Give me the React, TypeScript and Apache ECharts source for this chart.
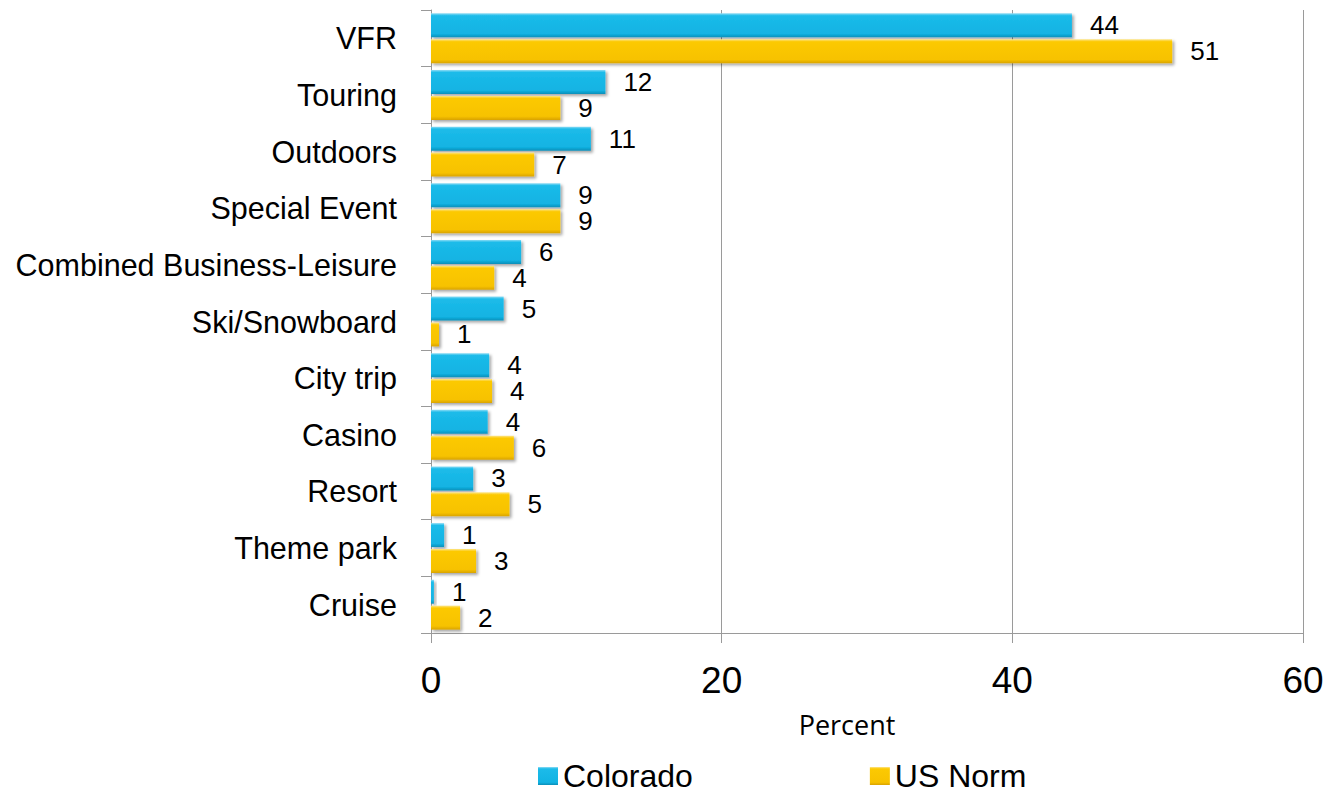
import React, { useEffect, useRef } from "react";
import * as echarts from "echarts";

const categories = [
  "VFR",
  "Touring",
  "Outdoors",
  "Special Event",
  "Combined Business-Leisure",
  "Ski/Snowboard",
  "City trip",
  "Casino",
  "Resort",
  "Theme park",
  "Cruise",
];
const coloradoValues = [44.1, 12.0, 11.0, 8.9, 6.2, 5.0, 4.0, 3.9, 2.9, 0.9, 0.2];
const usNormValues = [51.0, 8.9, 7.1, 8.9, 4.35, 0.55, 4.2, 5.7, 5.4, 3.1, 2.0];
const coloradoLabels = ["44", "12", "11", "9", "6", "5", "4", "4", "3", "1", "1"];
const usNormLabels = ["51", "9", "7", "9", "4", "1", "4", "6", "5", "3", "2"];
const seriesNames = ["Colorado", "US Norm"];
const axisMin = 0;
const axisMax = 60;
const axisStep = 20;
const axisTitle = "Percent";

const regular = "'Liberation Sans', Arial, sans-serif";

function grad(stops: [number, string][]) {
  return new echarts.graphic.LinearGradient(
    0,
    0,
    0,
    1,
    stops.map(([offset, color]) => ({ offset, color }))
  );
}

const cyanFill = grad([
  [0, "#8fdcf5"],
  [0.1, "#1cbbe9"],
  [0.85, "#12b3e3"],
  [1, "#0b8fb9"],
]);
const goldFill = grad([
  [0, "#fde58a"],
  [0.1, "#fcc902"],
  [0.85, "#f7c200"],
  [1, "#d9a300"],
]);

export default function App() {
  const ref = useRef<HTMLDivElement>(null);
  useEffect(() => {
    if (!ref.current) return;
    const chart = echarts.init(ref.current, undefined, { renderer: "svg" });
    const labelStyle = (labels: string[]) => ({
      show: true,
      position: "right" as const,
      distance: 18,
      fontFamily: regular,
      fontSize: 26,
      lineHeight: 22,
      color: "#000",
      formatter: (p: any) => labels[p.dataIndex],
    });
    const itemStyle = (fill: any) => ({
      color: fill,
      shadowColor: "rgba(0,0,0,0.35)",
      shadowBlur: 3,
      shadowOffsetX: 2,
      shadowOffsetY: 2,
    });
    chart.setOption({
      animation: false,
      backgroundColor: "#fff",
      grid: {
        left: 431,
        right: 24,
        top: 10,
        bottom: 162,
        containLabel: false,
        outerBoundsMode: "none",
      },
      legend: {
        data: seriesNames,
        left: 533,
        top: 755,
        icon: "rect",
        itemWidth: 20,
        itemHeight: 18,
        itemGap: 177,
        textStyle: { fontFamily: regular, fontSize: 32, lineHeight: 28, color: "#000" },
      },
      xAxis: {
        type: "value",
        min: axisMin,
        max: axisMax,
        interval: axisStep,
        name: axisTitle,
        nameLocation: "middle",
        nameGap: 78,
        nameTextStyle: {
          fontFamily: "'Open Sans', sans-serif",
          fontSize: 27,
          color: "#000",
          padding: [0, 40, 0, 0],
        },
        axisLine: { show: true, lineStyle: { color: "#9a9a9a", width: 1 } },
        axisTick: { show: true, length: 10, lineStyle: { color: "#9a9a9a" } },
        axisLabel: { fontFamily: regular, fontSize: 37, color: "#000", margin: 29 },
        splitLine: { show: true, lineStyle: { color: "#9a9a9a", width: 1 } },
      },
      yAxis: {
        type: "category",
        data: categories,
        inverse: true,
        axisLine: { show: true, lineStyle: { color: "#9a9a9a", width: 1 } },
        axisTick: { show: true, length: 10, lineStyle: { color: "#9a9a9a" } },
        axisLabel: { fontFamily: regular, fontSize: 30.5, color: "#000", margin: 34 },
        splitLine: { show: false },
      },
      series: [
        {
          name: seriesNames[0],
          type: "bar",
          data: coloradoValues,
          barWidth: 24,
          barGap: "8%",
          itemStyle: itemStyle(cyanFill),
          label: labelStyle(coloradoLabels),
        },
        {
          name: seriesNames[1],
          type: "bar",
          data: usNormValues,
          barWidth: 24,
          barGap: "8%",
          itemStyle: itemStyle(goldFill),
          label: labelStyle(usNormLabels),
        },
      ],
    });
    return () => chart.dispose();
  }, []);
  return (
    <div
      ref={ref}
      style={{ position: "absolute", left: 0, top: 0, width: 1327, height: 795 }}
    />
  );
}
